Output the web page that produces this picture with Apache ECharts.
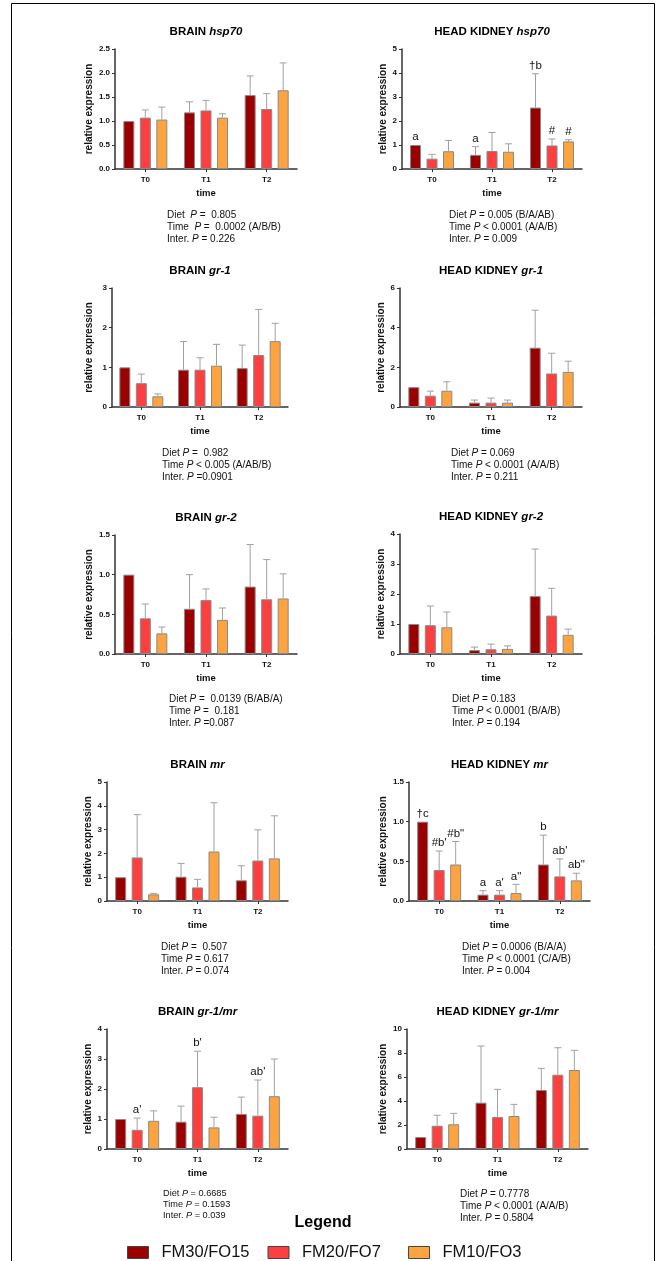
<!DOCTYPE html>
<html><head><meta charset="utf-8">
<script src="https://cdn.jsdelivr.net/npm/echarts/dist/echarts.min.js"></script>
<style>html,body{margin:0;padding:0;background:#fff}#c{width:668px;height:1261px}</style>
</head><body><div id="c"></div>
<script>
// ---------- DATA ----------
const categories = ['T0', 'T1', 'T2'];
const diets = ['FM30/FO15', 'FM20/FO7', 'FM10/FO3'];
// rows = diets (FM30, FM20, FM10), columns = T0, T1, T2
const brainHsp70Mean = [[1.00, 1.18, 1.54], [1.07, 1.22, 1.25], [1.03, 1.07, 1.64]];
const brainHsp70Sd   = [[0.00, 0.22, 0.40], [0.16, 0.21, 0.32], [0.26, 0.08, 0.57]];
const hkHsp70Mean    = [[1.00, 0.59, 2.56], [0.43, 0.75, 0.98], [0.74, 0.72, 1.15]];
const hkHsp70Sd      = [[0.00, 0.34, 1.41], [0.18, 0.77, 0.27], [0.45, 0.33, 0.07]];
const brainGr1Mean   = [[1.00, 0.94, 0.98], [0.60, 0.94, 1.31], [0.27, 1.04, 1.66]];
const brainGr1Sd     = [[0.00, 0.71, 0.58], [0.23, 0.30, 1.15], [0.06, 0.54, 0.45]];
const hkGr1Mean      = [[1.00, 0.22, 2.99], [0.57, 0.22, 1.69], [0.82, 0.22, 1.77]];
const hkGr1Sd        = [[0.00, 0.13, 1.89], [0.23, 0.23, 1.02], [0.45, 0.13, 0.54]];
const brainGr2Mean   = [[1.00, 0.57, 0.85], [0.45, 0.68, 0.69], [0.26, 0.43, 0.70]];
const brainGr2Sd     = [[0.00, 0.43, 0.53], [0.18, 0.14, 0.50], [0.08, 0.15, 0.31]];
const hkGr2Mean      = [[1.00, 0.13, 1.93], [0.96, 0.16, 1.28], [0.89, 0.17, 0.64]];
const hkGr2Sd        = [[0.00, 0.10, 1.57], [0.64, 0.17, 0.91], [0.51, 0.10, 0.19]];
const brainMrMean    = [[1.00, 1.02, 0.87], [1.83, 0.57, 1.70], [0.28, 2.08, 1.79]];
const brainMrSd      = [[0.00, 0.56, 0.61], [1.80, 0.34, 1.29], [0.04, 2.05, 1.79]];
const hkMrMean       = [[1.00, 0.08, 0.46], [0.39, 0.08, 0.31], [0.46, 0.10, 0.26]];
const hkMrSd         = [[0.00, 0.05, 0.37], [0.24, 0.05, 0.22], [0.29, 0.11, 0.09]];
const brainRatioMean = [[1.00, 0.91, 1.17], [0.64, 2.06, 1.11], [0.94, 0.72, 1.76]];
const brainRatioSd   = [[0.00, 0.52, 0.56], [0.39, 1.20, 1.19], [0.33, 0.34, 1.24]];
const hkRatioMean    = [[1.00, 3.86, 4.92], [1.94, 2.67, 6.19], [2.06, 2.75, 6.58]];
const hkRatioSd      = [[0.00, 4.72, 1.80], [0.87, 2.30, 2.25], [0.91, 0.97, 1.64]];

// significance letters: [time index, diet index, text]
const hkHsp70Notes = [[0, 0, 'a'], [1, 0, 'a'], [2, 0, '†b'], [2, 1, '#'], [2, 2, '#']];
const hkMrNotes = [[0, 0, '†c'], [0, 1, "#b'"], [0, 2, '#b"'], [1, 0, 'a'], [1, 1, "a'"], [1, 2, 'a"'], [2, 0, 'b'], [2, 1, "ab'"], [2, 2, 'ab"']];
const brainRatioNotes = [[0, 1, "a'"], [1, 1, "b'"], [2, 1, "ab'"]];

// statistics text
const brainHsp70Stats = ['Diet  P =  0.805', 'Time  P =  0.0002 (A/B/B)', 'Inter. P = 0.226'];
const hkHsp70Stats = ['Diet P = 0.005 (B/A/AB)', 'Time P < 0.0001 (A/A/B)', 'Inter. P = 0.009'];
const brainGr1Stats = ['Diet P =  0.982', 'Time P < 0.005 (A/AB/B)', 'Inter. P =0.0901'];
const hkGr1Stats = ['Diet P = 0.069', 'Time P < 0.0001 (A/A/B)', 'Inter. P = 0.211'];
const brainGr2Stats = ['Diet P =  0.0139 (B/AB/A)', 'Time P =  0.181', 'Inter. P =0.087'];
const hkGr2Stats = ['Diet P = 0.183', 'Time P < 0.0001 (B/A/B)', 'Inter. P = 0.194'];
const brainMrStats = ['Diet P =  0.507', 'Time P = 0.617', 'Inter. P = 0.074'];
const hkMrStats = ['Diet P = 0.0006 (B/A/A)', 'Time P < 0.0001 (C/A/B)', 'Inter. P = 0.004'];
const brainRatioStats = ['Diet P = 0.6685', 'Time P = 0.1593', 'Inter. P = 0.039'];
const hkRatioStats = ['Diet P = 0.7778', 'Time P < 0.0001 (A/A/B)', 'Inter. P = 0.5804'];

// y-axis scales: [max, step, decimals]
const brainHsp70Axis = [2.5, 0.5, 1], hkHsp70Axis = [5, 1, 0];
const brainGr1Axis = [3, 1, 0], hkGr1Axis = [6, 2, 0];
const brainGr2Axis = [1.5, 0.5, 1], hkGr2Axis = [4, 1, 0];
const brainMrAxis = [5, 1, 0], hkMrAxis = [1.5, 0.5, 1];
const brainRatioAxis = [4, 1, 0], hkRatioAxis = [10, 2, 0];

const panels = [
  {tissue: 'BRAIN', gene: 'hsp70', mean: brainHsp70Mean, sd: brainHsp70Sd, axis: brainHsp70Axis, notes: [], stats: brainHsp70Stats},
  {tissue: 'HEAD KIDNEY', gene: 'hsp70', mean: hkHsp70Mean, sd: hkHsp70Sd, axis: hkHsp70Axis, notes: hkHsp70Notes, stats: hkHsp70Stats},
  {tissue: 'BRAIN', gene: 'gr-1', mean: brainGr1Mean, sd: brainGr1Sd, axis: brainGr1Axis, notes: [], stats: brainGr1Stats},
  {tissue: 'HEAD KIDNEY', gene: 'gr-1', mean: hkGr1Mean, sd: hkGr1Sd, axis: hkGr1Axis, notes: [], stats: hkGr1Stats},
  {tissue: 'BRAIN', gene: 'gr-2', mean: brainGr2Mean, sd: brainGr2Sd, axis: brainGr2Axis, notes: [], stats: brainGr2Stats},
  {tissue: 'HEAD KIDNEY', gene: 'gr-2', mean: hkGr2Mean, sd: hkGr2Sd, axis: hkGr2Axis, notes: [], stats: hkGr2Stats},
  {tissue: 'BRAIN', gene: 'mr', mean: brainMrMean, sd: brainMrSd, axis: brainMrAxis, notes: [], stats: brainMrStats},
  {tissue: 'HEAD KIDNEY', gene: 'mr', mean: hkMrMean, sd: hkMrSd, axis: hkMrAxis, notes: hkMrNotes, stats: hkMrStats},
  {tissue: 'BRAIN', gene: 'gr-1/mr', mean: brainRatioMean, sd: brainRatioSd, axis: brainRatioAxis, notes: brainRatioNotes, stats: brainRatioStats},
  {tissue: 'HEAD KIDNEY', gene: 'gr-1/mr', mean: hkRatioMean, sd: hkRatioSd, axis: hkRatioAxis, notes: [], stats: hkRatioStats}
];

// ---------- LAYOUT / STYLE ----------
// [gridLeft, gridTop, gridWidth, gridHeight, yNameGap, statsX, statsY, statsFont, statsLineH]
const layout = [
  [115, 49, 182, 120, 21, 167, 215, 10, 12],
  [402, 49, 180, 120, 14, 449, 215, 10, 12],
  [112, 288, 176, 119, 18, 162, 453, 10, 12],
  [400, 288, 182, 119, 12, 451, 453, 10, 12],
  [115, 535, 182, 119, 21, 169, 699, 10, 12],
  [400, 534, 182, 120, 12, 452, 699, 10, 12],
  [107, 782, 181, 119, 13, 161, 947, 10, 12],
  [409, 782, 181, 119, 21, 462, 947, 10, 12],
  [107, 1029, 181, 120, 14, 163, 1193, 9.2, 11],
  [407, 1029, 181, 120, 19, 460, 1194, 10, 12]
];
const COLORS = ['#9b0000', '#fc3f3f', '#fda33f'];
const FONT = '"Liberation Sans", Arial, Helvetica, sans-serif';
const BW = 11, SP = 16.5;
const AXC = '#333';

const grid = [], xAxis = [], yAxis = [], series = [], graphic = [];

graphic.push({type: 'rect', shape: {x: 11.5, y: 3.5, width: 643, height: 1300}, style: {fill: 'none', stroke: '#000', lineWidth: 1}, silent: true});

function errRender(params, api) {
  const t = api.value(0), d = api.value(1), m = api.value(2), s = api.value(3);
  if (!(s > 0)) return null;
  const base = api.coord([t, m]);
  const top = api.coord([t, m + s]);
  const x = base[0] + (d - 1) * SP;
  return {type: 'group', children: [
    {type: 'line', shape: {x1: x, y1: base[1], x2: x, y2: top[1]}, style: {stroke: '#a0a0a0', lineWidth: 1}},
    {type: 'line', shape: {x1: x - 3.5, y1: top[1], x2: x + 3.5, y2: top[1]}, style: {stroke: '#a0a0a0', lineWidth: 1}}
  ]};
}

panels.forEach((p, i) => {
  const L = layout[i];
  grid.push({left: L[0], top: L[1], width: L[2], height: L[3], containLabel: false});
  xAxis.push({
    type: 'category', gridIndex: i, data: categories,
    name: 'time', nameLocation: 'middle', nameGap: 19,
    nameTextStyle: {fontFamily: FONT, fontWeight: 'bold', fontSize: 9.5, color: '#111'},
    axisLine: {lineStyle: {color: AXC, width: 1.5}},
    axisTick: {show: true, alignWithLabel: true, length: 3, lineStyle: {color: AXC, width: 1}},
    axisLabel: {fontFamily: FONT, fontWeight: 'bold', fontSize: 8, color: '#111', margin: 7}
  });
  const dec = p.axis[2];
  yAxis.push({
    type: 'value', gridIndex: i, min: 0, max: p.axis[0], interval: p.axis[1],
    name: 'relative expression', nameLocation: 'middle', nameGap: L[4], nameRotate: 90,
    nameTextStyle: {fontFamily: FONT, fontWeight: 'bold', fontSize: 10, color: '#111'},
    axisLine: {show: true, lineStyle: {color: AXC, width: 1.5}},
    axisTick: {show: true, length: 3, lineStyle: {color: AXC, width: 1}},
    axisLabel: {fontFamily: FONT, fontWeight: 'bold', fontSize: 8, color: '#111', margin: 5,
      formatter: v => Number(v).toFixed(dec)},
    splitLine: {show: false}
  });
  for (let d = 0; d < 3; d++) {
    series.push({
      type: 'bar', name: diets[d], xAxisIndex: i, yAxisIndex: i, data: p.mean[d],
      barWidth: BW, barGap: '50%', silent: true,
      itemStyle: {color: COLORS[d], borderColor: '#8a8a8a', borderWidth: 1}
    });
  }
  const errData = [];
  for (let d = 0; d < 3; d++) for (let t = 0; t < 3; t++) errData.push([t, d, p.mean[d][t], p.sd[d][t]]);
  series.push({type: 'custom', xAxisIndex: i, yAxisIndex: i, data: errData, renderItem: errRender, silent: true, z: 3});
  if (p.notes.length) {
    const nd = p.notes.map(n => [n[0], n[1], p.mean[n[1]][n[0]] + p.sd[n[1]][n[0]]]);
    const labels = p.notes.map(n => n[2]);
    series.push({type: 'custom', xAxisIndex: i, yAxisIndex: i, data: nd, silent: true, z: 4,
      renderItem: (params, api) => {
        const t = api.value(0), d = api.value(1), v = api.value(2);
        const c = api.coord([t, v]);
        return {type: 'text', x: c[0] + (d - 1) * SP, y: c[1] - 2,
          style: {text: labels[params.dataIndex], align: 'center', verticalAlign: 'bottom',
            fontFamily: FONT, fontSize: 11.5, fill: '#111'}};
      }});
  }
  // title
  graphic.push({type: 'text', x: L[0] + L[2] / 2, y: L[1] - 17, silent: true,
    style: {text: '{a|' + p.tissue + ' }{b|' + p.gene + '}', align: 'center', verticalAlign: 'middle',
      rich: {a: {fontFamily: FONT, fontWeight: 'bold', fontSize: 11.5, fill: '#000'},
             b: {fontFamily: FONT, fontWeight: 'bold', fontStyle: 'italic', fontSize: 11.5, fill: '#000'}}}});
  // stats
  p.stats.forEach((s, k) => {
    const idx = s.indexOf('P');
    const pre = s.slice(0, idx), post = s.slice(idx + 1);
    graphic.push({type: 'text', x: L[5], y: L[6] + k * L[8], silent: true,
      style: {text: '{n|' + pre + '}{i|P}{n|' + post + '}', align: 'left', verticalAlign: 'middle',
        rich: {n: {fontFamily: FONT, fontSize: L[7], fill: '#111'},
               i: {fontFamily: FONT, fontStyle: 'italic', fontSize: L[7], fill: '#111'}}}});
  });
});

graphic.push({type: 'text', x: 323, y: 1223, silent: true,
  style: {text: 'Legend', align: 'center', verticalAlign: 'middle', fontFamily: FONT, fontWeight: 'bold', fontSize: 16, fill: '#000'}});

const option = {
  animation: false,
  backgroundColor: '#fff',
  grid, xAxis, yAxis, series, graphic,
  legend: {
    data: diets,
    formatter: name => name === diets[1] ? name + '\u00a0\u00a0' : name,
    left: 127, top: 1244, orient: 'horizontal', padding: 0,
    icon: 'rect', itemWidth: 21, itemHeight: 12, itemGap: 18,
    selectedMode: false,
    itemStyle: {borderColor: '#444', borderWidth: 1},
    textStyle: {fontFamily: FONT, fontSize: 16.5, color: '#111', padding: [0, 0, 0, 8]}
  }
};
const chart = echarts.init(document.getElementById('c'), null, {renderer: 'canvas'});
chart.setOption(option);
</script></body></html>
